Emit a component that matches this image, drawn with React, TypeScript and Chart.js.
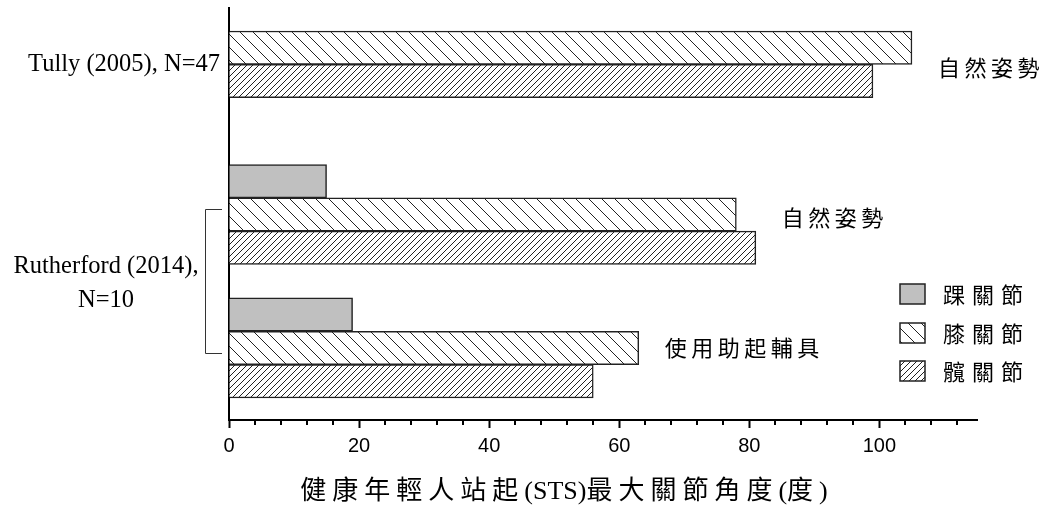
import { useEffect, useRef } from 'react';
import { Chart, registerables } from 'chart.js';

Chart.register(...registerables);

// ---- data ----
const jointNames = ['踝關節', '膝關節', '髖關節'];
const studyLines = [['Tully (2005), N=47'], ['Rutherford (2014),', 'N=10']];
const conditionLabels = ['自然姿勢', '自然姿勢', '使用助起輔具'];
const ankleAngles: (number | null)[] = [null, 15, 19];
const kneeAngles = [105, 78, 63];
const hipAngles = [99, 81, 56];
const xMin = 0;
const xMax = 115;
const majorStep = 20;
const minorStep = 4;
const xTitle = '健康年輕人站起(STS)最大關節角度(度)';

// ---- layout (rows on the hidden index axis) ----
const groupRows = [-1, 4, 8]; // row of the first (ankle) slot of each condition group
const rowMin = -1.19;
const rowMax = 11.16;
const studyLineRows = [[0.5], [6.56, 7.58]];
const conditionRows = [0.61, 5.09, 9.0];
const bracketRows = [4.85, 9.15];

function makeHatch(ctx: CanvasRenderingContext2D, size: number, dir: 'back' | 'fwd') {
  const c = document.createElement('canvas');
  c.width = size;
  c.height = size;
  const g = c.getContext('2d')!;
  g.fillStyle = '#ffffff';
  g.fillRect(0, 0, size, size);
  g.strokeStyle = '#222';
  g.lineWidth = 1;
  g.beginPath();
  for (let k = -1; k <= 1; k++) {
    if (dir === 'back') {
      g.moveTo(k * size, 0);
      g.lineTo(k * size + size, size);
    } else {
      g.moveTo(k * size, size);
      g.lineTo(k * size + size, 0);
    }
  }
  g.stroke();
  return ctx.createPattern(c, 'repeat')!;
}

function spacedText(ctx: CanvasRenderingContext2D, text: string, x: number, y: number, spacing: number, align: 'left' | 'center' | 'right') {
  (ctx as any).letterSpacing = spacing + 'px';
  const w = ctx.measureText(text).width - spacing;
  let sx = x;
  if (align === 'center') sx = x - w / 2;
  if (align === 'right') sx = x - w;
  ctx.textAlign = 'left';
  ctx.fillText(text, sx, y);
  (ctx as any).letterSpacing = '0px';
}

// spacing only after CJK characters, Latin runs stay compact
function mixedText(ctx: CanvasRenderingContext2D, text: string, cx: number, y: number, spacing: number) {
  const chars = Array.from(text);
  const isCJK = (ch: string) => /[\u3000-\u9fff\uff00-\uffef]/.test(ch);
  const adv = chars.map((ch, i) => ctx.measureText(ch).width + (isCJK(ch) && i < chars.length - 1 ? spacing : 0));
  const total = adv.reduce((a, b) => a + b, 0);
  let px = cx - total / 2;
  ctx.textAlign = 'left';
  chars.forEach((ch, i) => {
    ctx.fillText(ch, px, y);
    px += adv[i];
  });
}

const CJK = '"Noto Sans CJK TC", "Noto Sans CJK JP", sans-serif';
const SERIF = '"Liberation Serif", "Times New Roman", serif';

const overlay = {
  id: 'overlay',
  afterDraw(chart: any) {
    const { ctx, chartArea: ca, scales } = chart;
    const x = scales.x;
    const y = scales.y;
    ctx.save();

    // minor ticks
    ctx.strokeStyle = '#000';
    ctx.lineWidth = 2;
    for (let v = xMin + minorStep; v < xMax; v += minorStep) {
      if (v % majorStep === 0) continue;
      const px = Math.round(x.getPixelForValue(v));
      ctx.beginPath();
      ctx.moveTo(px, ca.bottom);
      ctx.lineTo(px, ca.bottom + 5);
      ctx.stroke();
    }

    // study labels
    ctx.fillStyle = '#000';
    ctx.textBaseline = 'middle';
    ctx.font = '24.5px ' + SERIF;
    ctx.textAlign = 'right';
    ctx.fillText(studyLines[0][0], ca.left - 9, y.getPixelForValue(studyLineRows[0][0]));
    ctx.textAlign = 'center';
    studyLines[1].forEach((line, i) => {
      ctx.fillText(line, ca.left - 123, y.getPixelForValue(studyLineRows[1][i]));
    });

    // bracket
    ctx.strokeStyle = '#333';
    ctx.lineWidth = 1;
    const by0 = Math.round(y.getPixelForValue(bracketRows[0])) + 0.5;
    const by1 = Math.round(y.getPixelForValue(bracketRows[1])) + 0.5;
    const bx0 = Math.round(ca.left) - 23.5;
    const bx1 = Math.round(ca.left) - 7;
    ctx.beginPath();
    ctx.moveTo(bx1, by0);
    ctx.lineTo(bx0, by0);
    ctx.lineTo(bx0, by1);
    ctx.lineTo(bx1, by1);
    ctx.stroke();

    // condition labels
    ctx.font = '22px ' + CJK;
    ctx.fillStyle = '#000';
    conditionLabels.forEach((lab, i) => {
      const vals = [ankleAngles[i], kneeAngles[i], hipAngles[i]].filter((v) => v != null) as number[];
      const mx = Math.max(...vals);
      spacedText(ctx, lab, x.getPixelForValue(mx) + 26, y.getPixelForValue(conditionRows[i]), 4.5, 'left');
    });

    // legend
    const ds = chart.data.datasets;
    const lx = Math.round(ca.right) - 77;
    ds.forEach((d: any, i: number) => {
      const cy = Math.round(ca.top + 286 + i * 38.5);
      ctx.fillStyle = d.backgroundColor;
      ctx.fillRect(lx, cy - 10, 25, 20);
      ctx.strokeStyle = '#222';
      ctx.lineWidth = 1.5;
      ctx.strokeRect(lx, cy - 10, 25, 20);
      ctx.fillStyle = '#000';
      ctx.font = '22px ' + CJK;
      ctx.textBaseline = 'middle';
      spacedText(ctx, d.label, lx + 43, cy + 1, 7, 'left');
    });

    // x-axis title
    ctx.fillStyle = '#000';
    ctx.font = '26px ' + SERIF + ', ' + CJK;
    ctx.textBaseline = 'middle';
    mixedText(ctx, xTitle, 564, 492, 6);

    ctx.restore();
  },
};

export default function App() {
  const ref = useRef<HTMLCanvasElement>(null);
  useEffect(() => {
    const canvas = ref.current!;
    const ctx0 = canvas.getContext('2d')!;
    const kneePattern = makeHatch(ctx0, 13, 'back');
    const hipPattern = makeHatch(ctx0, 6, 'fwd');
    const toPoints = (vals: (number | null)[], joint: number) =>
      vals
        .map((v, i) => (v == null ? null : { x: v, y: groupRows[i] + joint }))
        .filter((p) => p !== null);

    const chart = new Chart(canvas, {
      type: 'bar',
      data: {
        datasets: [
          { label: jointNames[0], data: toPoints(ankleAngles, 0) as any, backgroundColor: '#c0c0c0', borderColor: '#222', borderWidth: 1.5 },
          { label: jointNames[1], data: toPoints(kneeAngles, 1) as any, backgroundColor: kneePattern as any, borderColor: '#222', borderWidth: 1.5 },
          { label: jointNames[2], data: toPoints(hipAngles, 2) as any, backgroundColor: hipPattern as any, borderColor: '#222', borderWidth: 1.5 },
        ],
      },
      options: {
        indexAxis: 'y',
        responsive: true,
        maintainAspectRatio: false,
        animation: false,
        datasets: { bar: { grouped: false, barPercentage: 1, categoryPercentage: 1 } as any },
        layout: { padding: { left: 221, right: 64, top: 8, bottom: 44 } },
        plugins: { legend: { display: false }, tooltip: { enabled: false } },
        scales: {
          x: {
            type: 'linear',
            position: 'bottom',
            min: xMin,
            max: xMax,
            ticks: {
              stepSize: minorStep,
              autoSkip: false,
              maxRotation: 0,
              padding: 6,
              color: '#000',
              font: { family: '"Liberation Sans", Arial, sans-serif', size: 20 },
              callback: (v: any) => (Number(v) % majorStep === 0 ? String(v) : ''),
            },
            grid: {
              display: true,
              drawOnChartArea: false,
              drawTicks: true,
              tickLength: 8,
              tickWidth: 2,
              tickColor: (c: any) => (c.tick && c.tick.value % majorStep === 0 ? '#000' : 'rgba(0,0,0,0)'),
            },
            border: { display: true, color: '#000', width: 2 },
          },
          y: {
            type: 'linear',
            reverse: true,
            offset: false,
            min: rowMin,
            max: rowMax,
            afterBuildTicks: (s: any) => {
              s.ticks = [{ value: s.min }, { value: s.max }];
            },
            ticks: { display: false },
            grid: { display: false, offset: false },
            border: { display: true, color: '#000', width: 2 },
          },
        },
      },
      plugins: [overlay],
    });
    return () => chart.destroy();
  }, []);

  return (
    <div style={{ position: 'fixed', left: 0, top: 0, width: 1041, height: 508, background: '#fff' }}>
      <canvas ref={ref} />
    </div>
  );
}
